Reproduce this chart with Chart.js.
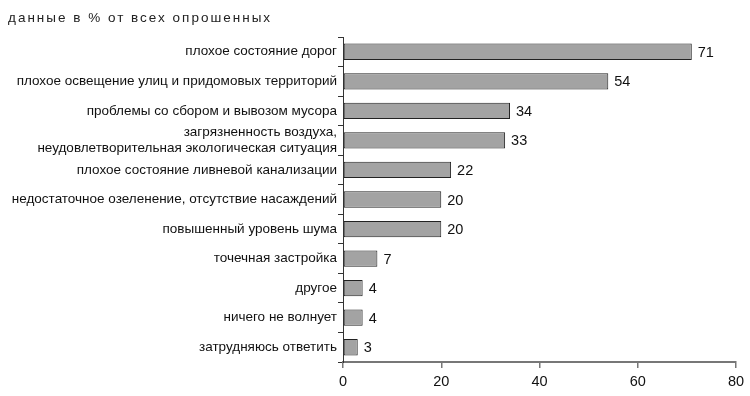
<!DOCTYPE html>
<html>
<head>
<meta charset="utf-8">
<script src="https://cdn.jsdelivr.net/npm/chart.js@4/dist/chart.umd.min.js"></script>
<style>
  body { margin: 0; background: #fff; }
  #wrap { width: 750px; height: 396px; }
</style>
</head>
<body>
<div id="wrap"><canvas id="myChart" width="750" height="396"></canvas></div>
<script>
const categories = [
  'плохое состояние дорог',
  'плохое освещение улиц и придомовых территорий',
  'проблемы со сбором и вывозом мусора',
  ['загрязненность воздуха,', 'неудовлетворительная экологическая ситуация'],
  'плохое состояние ливневой канализации',
  'недостаточное озеленение, отсутствие насаждений',
  'повышенный уровень шума',
  'точечная застройка',
  'другое',
  'ничего не волнует',
  'затрудняюсь ответить'
];
const values = [71, 54, 34, 33, 22, 20, 20, 7, 4, 4, 3];
const xTicks = [0, 20, 40, 60, 80];
const titleText = 'данные в % от всех опрошенных';

const fontFamily = '"Liberation Sans", Arial, sans-serif';

// title in the top-left corner, letter-spaced like the original
const titlePlugin = {
  id: 'topTitle',
  afterDraw(chart) {
    const c = chart.ctx;
    c.save();
    c.font = '13.5px ' + fontFamily;
    c.fillStyle = '#222';
    c.textBaseline = 'middle';
    c.textAlign = 'left';
    if ('letterSpacing' in c) c.letterSpacing = '2px';
    c.fillText(titleText, 8, 18);
    c.restore();
  }
};

// numbers right of each bar
const valueLabels = {
  id: 'valueLabels',
  afterDatasetsDraw(chart) {
    const c = chart.ctx;
    const meta = chart.getDatasetMeta(0);
    c.save();
    c.font = '14.5px ' + fontFamily;
    c.fillStyle = '#111';
    c.textBaseline = 'middle';
    c.textAlign = 'left';
    meta.data.forEach((bar, i) => {
      c.fillText(String(values[i]), bar.x + 6, bar.y + 1);
    });
    c.restore();
  }
};

const ctx = document.getElementById('myChart').getContext('2d');
new Chart(ctx, {
  type: 'bar',
  data: {
    labels: categories,
    datasets: [{
      data: values,
      backgroundColor: '#a3a3a3',
      borderColor: '#222',
      borderWidth: 1,
      borderSkipped: false,
      barPercentage: 0.92,
      categoryPercentage: 0.6
    }]
  },
  options: {
    indexAxis: 'y',
    responsive: false,
    animation: false,
    layout: { padding: { top: 37, right: 14, left: 0, bottom: 0 } },
    plugins: {
      legend: { display: false },
      tooltip: { enabled: false }
    },
    scales: {
      x: {
        min: 0,
        max: 80,
        afterBuildTicks(scale) {
          scale.ticks = xTicks.map(v => ({ value: v }));
        },
        afterFit(scale) { scale.height = 34; },
        grid: {
          drawOnChartArea: false,
          drawTicks: true,
          tickLength: 6,
          color: '#777',
          lineWidth: 1.5
        },
        border: { color: '#777', width: 2 },
        ticks: {
          color: '#111',
          font: { size: 14.5, family: fontFamily },
          padding: 5
        }
      },
      y: {
        afterFit(scale) { scale.width = 343; },
        grid: {
          offset: true,
          drawOnChartArea: false,
          drawTicks: true,
          tickLength: 5,
          color: '#333',
          lineWidth: 1
        },
        border: { color: '#333', width: 1 },
        ticks: {
          color: '#111',
          font: { size: 13.5, family: fontFamily },
          padding: 1,
          autoSkip: false
        }
      }
    }
  },
  plugins: [titlePlugin, valueLabels]
});
</script>
</body>
</html>
